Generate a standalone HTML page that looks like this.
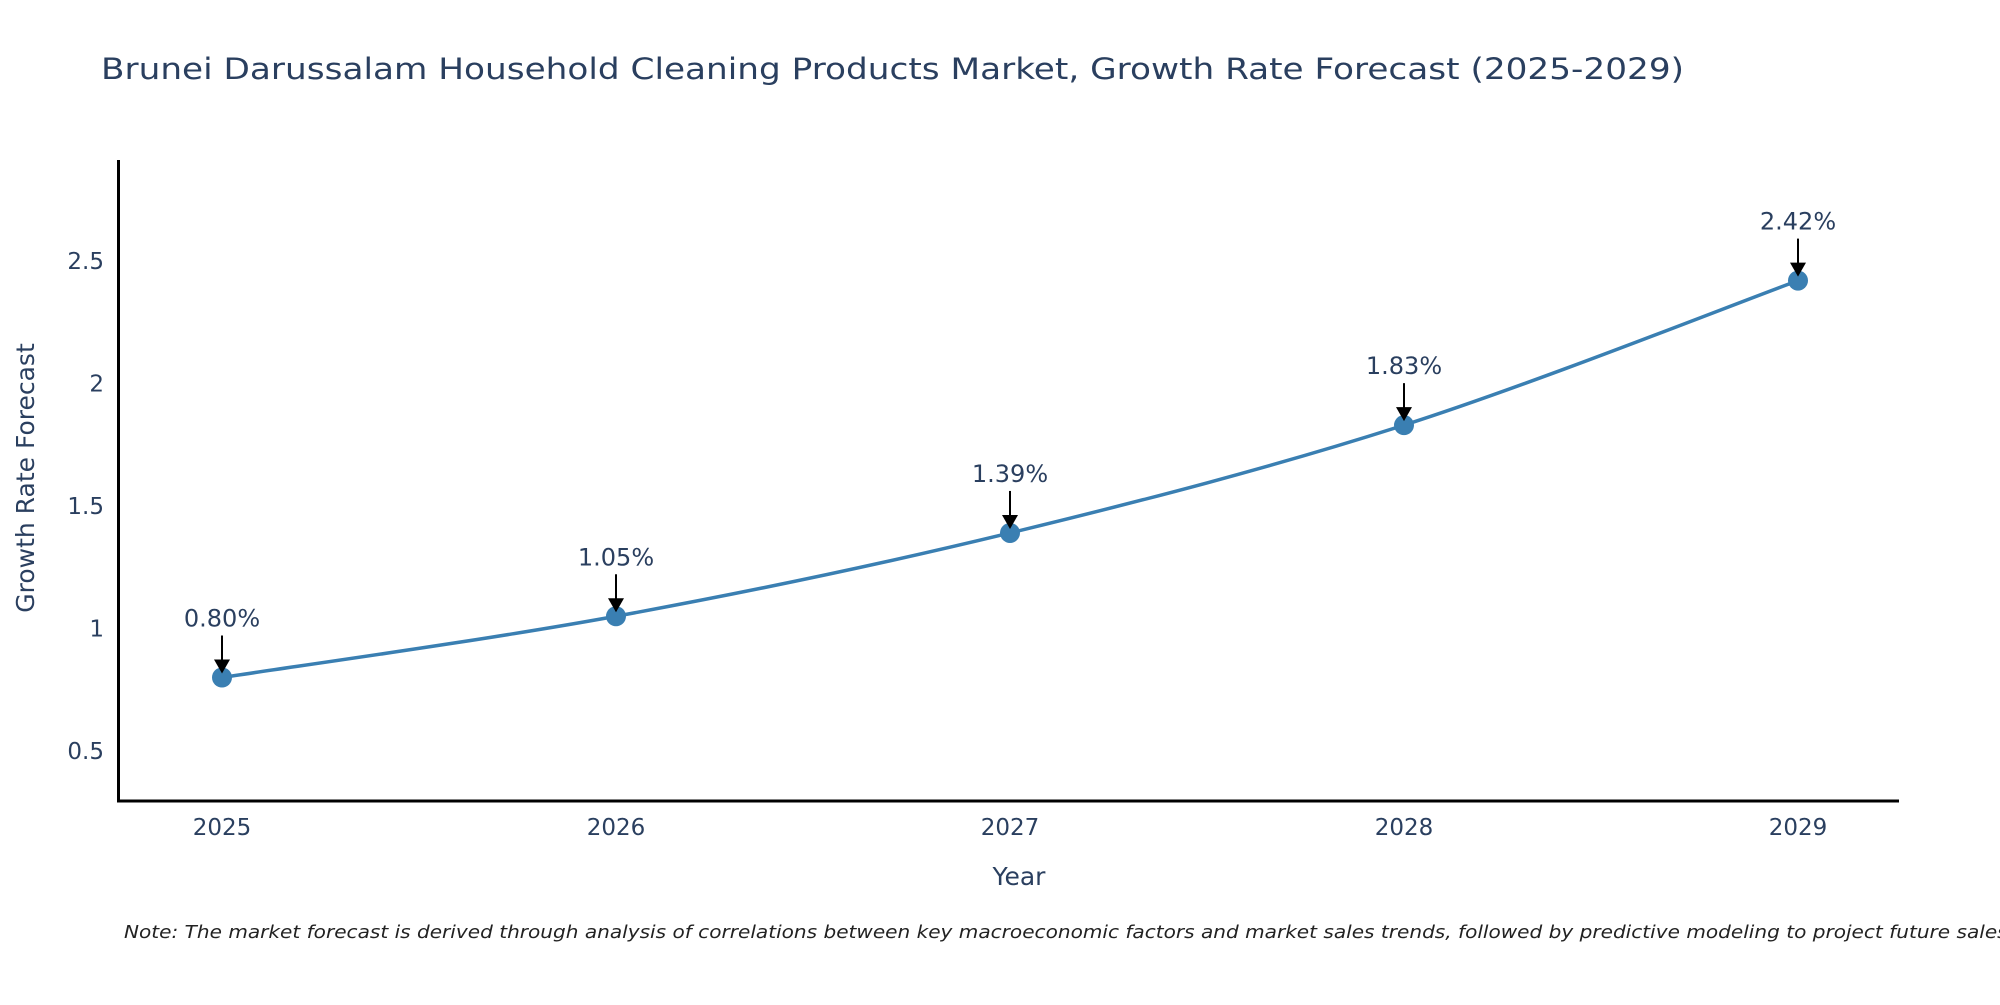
<!DOCTYPE html>
<html><head><meta charset="utf-8"><style>
body{margin:0;background:#fff;}
svg text{font-family:"DejaVu Sans","Liberation Sans",sans-serif;}
</style></head><body>
<svg id="chart" width="2000" height="1000" xmlns="http://www.w3.org/2000/svg">
<text x="101" y="79" font-size="29" fill="#2a3f5f" textLength="1583" lengthAdjust="spacingAndGlyphs">Brunei Darussalam Household Cleaning Products Market, Growth Rate Forecast (2025-2029)</text>
<g id="yticks"></g><g id="xticks"></g>
<line x1="118.5" y1="160" x2="118.5" y2="802" stroke="#000" stroke-width="3"/>
<line x1="117" y1="801" x2="1899" y2="801" stroke="#000" stroke-width="3"/>
<g id="series"></g><g id="annots"></g>
<text x="1019" y="885" font-size="25" fill="#2a3f5f" text-anchor="middle">Year</text>
<text transform="translate(34,478) rotate(-90)" font-size="25" fill="#2a3f5f" text-anchor="middle">Growth Rate Forecast</text>
<text x="124" y="938" font-size="18" font-style="italic" fill="#222" textLength="1890" lengthAdjust="spacingAndGlyphs">Note: The market forecast is derived through analysis of correlations between key macroeconomic factors and market sales trends, followed by predictive modeling to project future sales.</text>
</svg>
<script>
const years=[2025,2026,2027,2028,2029];
const values=[0.80,1.05,1.39,1.83,2.42];
const labels=["0.80%","1.05%","1.39%","1.83%","2.42%"];
const yTicks=[0.5,1,1.5,2,2.5];
const yTickLabels=["0.5","1","1.5","2","2.5"];
const NS="http://www.w3.org/2000/svg";
function xs(yr){return 222+(yr-2025)*394;}
function ys(v){return 751-(v-0.5)*245;}
function mk(tag,attrs,parent){const e=document.createElementNS(NS,tag);for(const k in attrs)e.setAttribute(k,attrs[k]);parent.appendChild(e);return e;}
const yt=document.getElementById('yticks'),xt=document.getElementById('xticks'),se=document.getElementById('series'),an=document.getElementById('annots');
yTicks.forEach((v,i)=>{const t=mk('text',{x:104,y:ys(v)+8,'font-size':23,fill:'#2a3f5f','text-anchor':'end'},yt);


t.textContent=yTickLabels[i];});
years.forEach(yr=>{const t=mk('text',{x:xs(yr),y:835,'font-size':23,fill:'#2a3f5f','text-anchor':'middle'},xt);


t.textContent=String(yr);});
const P=years.map((y,i)=>[xs(y),ys(values[i])]);
let d=`M${P[0][0]},${P[0][1]}`;
for(let i=0;i<P.length-1;i++){const p0=P[i-1]||P[i],p1=P[i],p2=P[i+1],p3=P[i+2]||P[i+1];const s=6;
d+=` C${p1[0]+(p2[0]-p0[0])/s},${p1[1]+(p2[1]-p0[1])/s} ${p2[0]-(p3[0]-p1[0])/s},${p2[1]-(p3[1]-p1[1])/s} ${p2[0]},${p2[1]}`;}
const path=mk('path',{d:d,fill:'none',stroke:'#3a7fb2','stroke-width':3.5},se);


P.forEach((p,i)=>{const c=mk('circle',{cx:p[0],cy:p[1],r:10,fill:'#3a7fb2'},se);


const l=mk('line',{x1:p[0],y1:p[1]-42,x2:p[0],y2:p[1]-16,stroke:'#000','stroke-width':2},an);


const h=mk('polygon',{points:`${p[0]-8},${p[1]-18} ${p[0]+8},${p[1]-18} ${p[0]},${p[1]-4}`,fill:'#000'},an);


const t=mk('text',{x:p[0],y:p[1]-51,'font-size':24,fill:'#2a3f5f','text-anchor':'middle'},an);


t.textContent=labels[i];});
</script>
</body></html>
